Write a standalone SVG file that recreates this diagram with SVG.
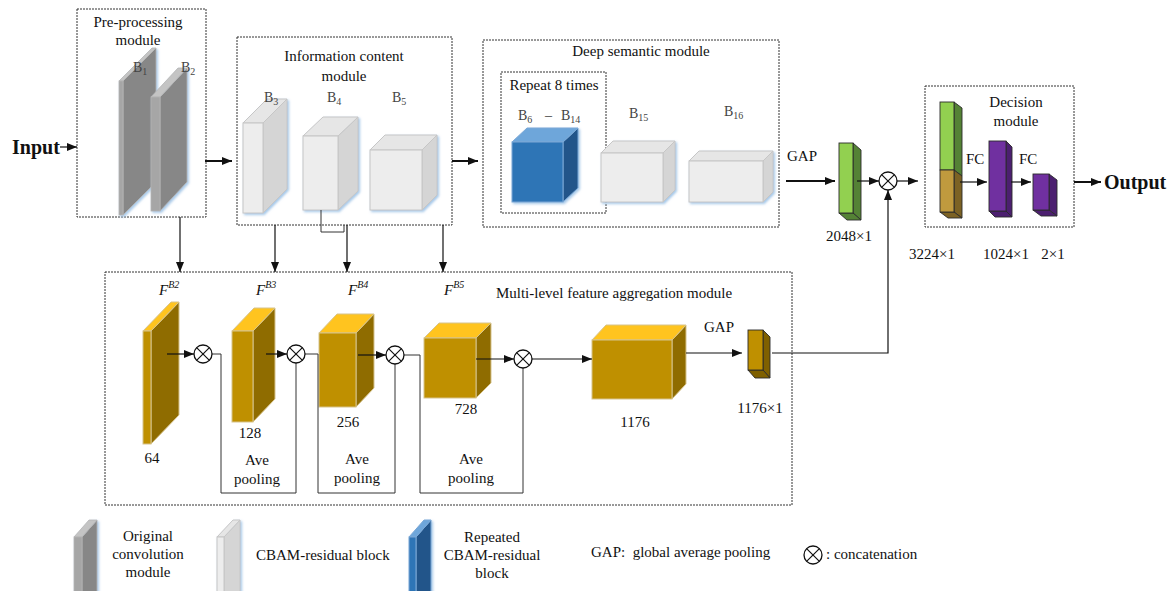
<svg xmlns="http://www.w3.org/2000/svg" width="1172" height="591" viewBox="0 0 1172 591">
  <defs>
    <style>
      text { font-family: "Liberation Serif", "Times New Roman", serif; fill: #111; }
      .t14 { font-size: 15px; }
      .t13 { font-size: 15px; }
      .blab { font-size: 14px; fill: #444; }
      .sub { font-size: 10px; }
      .big { font-size: 20px; font-weight: bold; }
      .fit { font-size: 15px; font-style: italic; }
      .sup { font-size: 10px; font-style: italic; }
      .mod { fill: none; stroke: #333; stroke-width: 1; stroke-dasharray: 2 1; }
      .ln { fill: none; stroke: #111; stroke-width: 1.2; }
      .lnb { fill: none; stroke: #111; stroke-width: 2; }
      .lnt { fill: none; stroke: #333; stroke-width: 1; }
      .gr .f { fill: #a6a6a6; } .gr .s { fill: #878787; } .gr .t { fill: #c4c4c4; }
      .gr polygon, .gr rect { stroke: #b5b5b5; stroke-width: 0.8; }
      .wh .f { fill: #ededed; } .wh .s { fill: #d5d5d5; } .wh .t { fill: #e6e6e6; }
      .wh polygon, .wh rect { stroke: #c6c6c6; stroke-width: 1; }
      .bl .f { fill: #2e75b6; } .bl .s { fill: #21558a; } .bl .t { fill: #6ea6da; }
      .bl polygon, .bl rect { stroke: #7aa8d6; stroke-width: 1; }
      .go .f { fill: #bf9000; } .go .s { fill: #8f6c00; } .go .t { fill: #ffc41f; }
      .go polygon, .go rect { stroke: #d6c38c; stroke-width: 1; }
      .bar polygon, .bar rect { stroke: #2a2a2a; stroke-width: 0.9; }
      .gn { fill: #92d050; } .gns { fill: #548235; }
      .tn { fill: #c09a3e; } .tns { fill: #7c6224; }
      .pu { fill: #7030a0; } .pus { fill: #4c1f70; }
      .gd { fill: #bf9000; } .gds { fill: #7f6000; }
    </style>
    <marker id="ah" markerUnits="userSpaceOnUse" markerWidth="10" markerHeight="8" refX="10" refY="4" orient="auto">
      <path d="M0,0 L10,4 L0,8 z" fill="#111"/>
    </marker>
    <filter id="glow" x="-20%" y="-20%" width="150%" height="150%">
      <feDropShadow dx="1.5" dy="1.5" stdDeviation="1" flood-color="#9dc3e6" flood-opacity="0.9"/>
    </filter>
    <!-- concatenation symbol: circle with a cross -->
    <g id="x">
      <circle r="9" fill="#fff" stroke="#111" stroke-width="1.3"/>
      <path d="M-6.4,-6.4 L6.4,6.4 M-6.4,6.4 L6.4,-6.4" stroke="#111" stroke-width="1.2"/>
    </g>
  </defs>

  <rect width="1172" height="591" fill="#fff"/>

  <!-- module frames -->
  <g id="frames">
    <rect class="mod" x="77" y="9" width="129" height="208"/>
    <rect class="mod" x="237" y="37" width="215" height="188"/>
    <rect class="mod" x="483" y="40" width="296" height="187"/>
    <rect class="mod" x="501" y="72" width="105" height="141"/>
    <rect class="mod" x="925" y="86" width="149" height="141"/>
    <rect class="mod" x="105" y="272" width="687" height="233"/>
    <text class="t14" x="138" y="27" text-anchor="middle">Pre-processing</text>
    <text class="t14" x="138" y="45" text-anchor="middle">module</text>
    <text class="t14" x="344" y="61" text-anchor="middle">Information content</text>
    <text class="t14" x="344" y="81" text-anchor="middle">module</text>
    <text class="t14" x="641" y="56" text-anchor="middle">Deep semantic module</text>
    <text class="t14" x="554" y="90" text-anchor="middle">Repeat 8 times</text>
    <text class="t14" x="1016" y="107" text-anchor="middle">Decision</text>
    <text class="t14" x="1016" y="126" text-anchor="middle">module</text>
    <text class="t14" x="614" y="298" text-anchor="middle">Multi-level feature aggregation module</text>
  </g>

  <!-- pre-processing blocks -->
  <g id="B1" class="gr" filter="url(#glow)">
    <polygon class="s" points="123,81 156,48 156,182 123,215"/>
    <polygon class="t" points="119,81 152,48 156,48 123,81"/>
    <rect class="f" x="119" y="81" width="4" height="134"/>
  </g>
  <g id="B2" class="gr" filter="url(#glow)">
    <polygon class="s" points="160,97 187,68 187,182 160,211"/>
    <polygon class="t" points="151,97 178,68 187,68 160,97"/>
    <rect class="f" x="151" y="97" width="9" height="114"/>
  </g>
  <text class="blab" x="133" y="72">B<tspan class="sub" dy="3">1</tspan></text>
  <text class="blab" x="181" y="72">B<tspan class="sub" dy="3">2</tspan></text>

  <!-- information content blocks -->
  <g id="B3" class="wh" filter="url(#glow)">
    <polygon class="s" points="263,123 287,99 287,189 263,213"/>
    <polygon class="t" points="243,123 267,99 287,99 263,123"/>
    <rect class="f" x="243" y="123" width="20" height="90"/>
  </g>
  <g id="B4" class="wh" filter="url(#glow)">
    <polygon class="s" points="338,136 358,117 358,191 338,210"/>
    <polygon class="t" points="303,136 323,117 358,117 338,136"/>
    <rect class="f" x="303" y="136" width="35" height="74"/>
  </g>
  <g id="B5" class="wh" filter="url(#glow)">
    <polygon class="s" points="422,150 437,135 437,195 422,210"/>
    <polygon class="t" points="370,150 385,135 437,135 422,150"/>
    <rect class="f" x="370" y="150" width="52" height="60"/>
  </g>
  <text class="blab" x="264" y="102">B<tspan class="sub" dy="3">3</tspan></text>
  <text class="blab" x="327" y="102">B<tspan class="sub" dy="3">4</tspan></text>
  <text class="blab" x="392" y="102">B<tspan class="sub" dy="3">5</tspan></text>

  <!-- deep semantic blocks -->
  <g id="B6-B14" class="bl" filter="url(#glow)">
    <polygon class="s" points="563,142 578,128 578,188 563,202"/>
    <polygon class="t" points="512,142 527,128 578,128 563,142"/>
    <rect class="f" x="512" y="142" width="51" height="60"/>
  </g>
  <g id="B15" class="wh" filter="url(#glow)">
    <polygon class="s" points="663,153 675,141 675,190 663,202"/>
    <polygon class="t" points="601,153 613,141 675,141 663,153"/>
    <rect class="f" x="601" y="153" width="62" height="49"/>
  </g>
  <g id="B16" class="wh" filter="url(#glow)">
    <polygon class="s" points="763,161 773,151 773,192 763,202"/>
    <polygon class="t" points="689,161 699,151 773,151 763,161"/>
    <rect class="f" x="689" y="161" width="74" height="41"/>
  </g>
  <text class="blab" x="518" y="120">B<tspan class="sub" dy="3">6</tspan></text>
  <text class="blab" x="545" y="120">–</text>
  <text class="blab" x="561" y="120">B<tspan class="sub" dy="3">14</tspan></text>
  <text class="blab" x="629" y="118">B<tspan class="sub" dy="3">15</tspan></text>
  <text class="blab" x="724" y="116">B<tspan class="sub" dy="3">16</tspan></text>

  <!-- global feature vector -->
  <g id="gap2048" class="bar">
    <polygon class="gns" points="853,143 861,150 861,220 853,213"/>
    <polygon class="gns" points="839,213 853,213 861,220 847,220"/>
    <rect class="gn" x="839" y="143" width="14" height="70"/>
  </g>
  <text class="t13" x="787" y="161">GAP</text>
  <text class="t13" x="849" y="241" text-anchor="middle">2048×1</text>

  <!-- decision module -->
  <g id="fused3224" class="bar">
    <polygon class="gns" points="954,102 962,108 962,176 954,170"/>
    <polygon class="tns" points="954,170 962,176 962,218 954,212"/>
    <polygon class="tns" points="940,212 954,212 962,218 948,218"/>
    <rect class="gn" x="940" y="102" width="14" height="68"/>
    <rect class="tn" x="940" y="170" width="14" height="42"/>
  </g>
  <g id="fc1024" class="bar">
    <polygon class="pus" points="1006,141 1012,147 1012,217 1006,211"/>
    <polygon class="pus" points="989,211 1006,211 1012,217 995,217"/>
    <rect class="pu" x="989" y="141" width="17" height="70"/>
  </g>
  <g id="fc2" class="bar">
    <polygon class="pus" points="1049,174 1057,180 1057,216 1049,210"/>
    <polygon class="pus" points="1033,210 1049,210 1057,216 1041,216"/>
    <rect class="pu" x="1033" y="174" width="16" height="36"/>
  </g>
  <text class="t13" x="966" y="164">FC</text>
  <text class="t13" x="1019" y="164">FC</text>
  <text class="t13" x="932" y="259" text-anchor="middle">3224×1</text>
  <text class="t13" x="1006" y="259" text-anchor="middle">1024×1</text>
  <text class="t13" x="1053" y="259" text-anchor="middle">2×1</text>
  <text class="big" x="12" y="154">Input</text>
  <text class="big" x="1104" y="189">Output</text>

  <!-- multi-level feature maps -->
  <g id="FB2" class="go">
    <polygon class="s" points="151,331 179,302 179,415 151,444"/>
    <polygon class="t" points="143,331 171,302 179,302 151,331"/>
    <rect class="f" x="143" y="331" width="8" height="113"/>
  </g>
  <g id="FB3" class="go">
    <polygon class="s" points="253,331 275,308 275,399 253,422"/>
    <polygon class="t" points="232,331 254,308 275,308 253,331"/>
    <rect class="f" x="232" y="331" width="21" height="91"/>
  </g>
  <g id="FB4" class="go">
    <polygon class="s" points="356,333 374,314 374,388 356,407"/>
    <polygon class="t" points="319,333 337,314 374,314 356,333"/>
    <rect class="f" x="319" y="333" width="37" height="74"/>
  </g>
  <g id="FB5" class="go">
    <polygon class="s" points="476,338 491,323 491,383 476,398"/>
    <polygon class="t" points="424,338 439,323 491,323 476,338"/>
    <rect class="f" x="424" y="338" width="52" height="60"/>
  </g>
  <g id="F1176" class="go">
    <polygon class="s" points="672,340 686,325 686,384 672,399"/>
    <polygon class="t" points="592,340 606,325 686,325 672,340"/>
    <rect class="f" x="592" y="340" width="80" height="59"/>
  </g>
  <g id="gap1176" class="bar">
    <polygon class="gds" points="763,330 770,337 770,378 763,370"/>
    <polygon class="gds" points="748,370 763,370 770,378 755,378"/>
    <rect class="gd" x="748" y="330" width="15" height="40"/>
  </g>
  <text class="fit" x="159" y="295">F<tspan class="sup" dy="-7">B2</tspan></text>
  <text class="fit" x="256" y="295">F<tspan class="sup" dy="-7">B3</tspan></text>
  <text class="fit" x="348" y="295">F<tspan class="sup" dy="-7">B4</tspan></text>
  <text class="fit" x="444" y="295">F<tspan class="sup" dy="-7">B5</tspan></text>
  <text class="t14" x="152" y="463" text-anchor="middle">64</text>
  <text class="t14" x="250" y="438" text-anchor="middle">128</text>
  <text class="t14" x="348" y="427" text-anchor="middle">256</text>
  <text class="t14" x="466" y="414" text-anchor="middle">728</text>
  <text class="t14" x="635" y="427" text-anchor="middle">1176</text>
  <text class="t13" x="704" y="332">GAP</text>
  <text class="t13" x="760" y="413" text-anchor="middle">1176×1</text>
  <text class="t14" x="257" y="465" text-anchor="middle">Ave</text>
  <text class="t14" x="257" y="484" text-anchor="middle">pooling</text>
  <text class="t14" x="357" y="464" text-anchor="middle">Ave</text>
  <text class="t14" x="357" y="483" text-anchor="middle">pooling</text>
  <text class="t14" x="471" y="464" text-anchor="middle">Ave</text>
  <text class="t14" x="471" y="483" text-anchor="middle">pooling</text>

  <!-- connectors -->
  <g id="connectors">
    <line class="ln" x1="60" y1="147" x2="77" y2="147" marker-end="url(#ah)"/>
    <line class="lnb" x1="205" y1="161" x2="232" y2="161" marker-end="url(#ah)"/>
    <line class="lnb" x1="452" y1="161" x2="478" y2="161" marker-end="url(#ah)"/>
    <line class="lnb" x1="786" y1="181" x2="835" y2="181" marker-end="url(#ah)"/>
    <line class="ln" x1="857" y1="181" x2="879" y2="181" marker-end="url(#ah)"/>
    <line class="ln" x1="897" y1="181" x2="918" y2="181" marker-end="url(#ah)"/>
    <polyline class="ln" points="772,353 888,353 888,190" marker-end="url(#ah)"/>
    <line class="ln" x1="960" y1="182" x2="987" y2="182" marker-end="url(#ah)"/>
    <line class="ln" x1="1011" y1="182" x2="1031" y2="182" marker-end="url(#ah)"/>
    <line class="lnb" x1="1074" y1="182" x2="1101" y2="182" marker-end="url(#ah)"/>

    <line class="ln" x1="180" y1="217" x2="180" y2="272" marker-end="url(#ah)"/>
    <line class="ln" x1="275" y1="225" x2="275" y2="272" marker-end="url(#ah)"/>
    <line class="ln" x1="347" y1="225" x2="347" y2="272" marker-end="url(#ah)"/>
    <line class="ln" x1="443" y1="225" x2="443" y2="272" marker-end="url(#ah)"/>
    <polyline class="lnt" points="321,210 321,232 344,232 344,225"/>

    <line class="ln" x1="167" y1="354" x2="194" y2="354" marker-end="url(#ah)"/>
    <line class="ln" x1="266" y1="354" x2="287" y2="354" marker-end="url(#ah)"/>
    <line class="ln" x1="358" y1="355" x2="386" y2="355" marker-end="url(#ah)"/>
    <line class="ln" x1="476" y1="359" x2="514" y2="359" marker-end="url(#ah)"/>
    <line class="ln" x1="532" y1="359" x2="592" y2="359" marker-end="url(#ah)"/>
    <line class="ln" x1="686" y1="353" x2="742" y2="353" marker-end="url(#ah)"/>

    <polyline class="lnt" points="212,354 221,354 221,493 296,493 296,363"/>
    <polyline class="lnt" points="305,354 318,354 318,493 395,493 395,364"/>
    <polyline class="lnt" points="404,355 420,355 420,493 523,493 523,368"/>
  </g>

  <!-- concatenation nodes -->
  <g id="cat1"><use href="#x" x="203" y="354"/></g>
  <g id="cat2"><use href="#x" x="296" y="354"/></g>
  <g id="cat3"><use href="#x" x="395" y="355"/></g>
  <g id="cat4"><use href="#x" x="523" y="359"/></g>
  <g id="cat5"><use href="#x" x="888" y="181"/></g>

  <!-- legend -->
  <g id="legend">
    <g class="gr" filter="url(#glow)">
      <polygon class="s" points="82,537 97,520 97,600 82,617"/>
      <polygon class="t" points="74,537 89,520 97,520 82,537"/>
      <rect class="f" x="74" y="537" width="8" height="70"/>
    </g>
    <text class="t14" x="148" y="541" text-anchor="middle">Original</text>
    <text class="t14" x="148" y="559" text-anchor="middle">convolution</text>
    <text class="t14" x="148" y="577" text-anchor="middle">module</text>
    <g class="wh" filter="url(#glow)">
      <polygon class="s" points="224,537 240,520 240,600 224,617"/>
      <polygon class="t" points="217,537 233,520 240,520 224,537"/>
      <rect class="f" x="217" y="537" width="7" height="70"/>
    </g>
    <text class="t14" x="256" y="560">CBAM-residual block</text>
    <g class="bl" filter="url(#glow)">
      <polygon class="s" points="416,537 431,520 431,600 416,617"/>
      <polygon class="t" points="409,537 424,520 431,520 416,537"/>
      <rect class="f" x="409" y="537" width="7" height="70"/>
    </g>
    <text class="t14" x="492" y="542" text-anchor="middle">Repeated</text>
    <text class="t14" x="492" y="560" text-anchor="middle">CBAM-residual</text>
    <text class="t14" x="492" y="578" text-anchor="middle">block</text>
    <text class="t14" x="591" y="557" xml:space="preserve">GAP:  global average pooling</text>
    <use href="#x" x="813" y="555"/>
    <text class="t14" x="826" y="559">: concatenation</text>
  </g>
</svg>
